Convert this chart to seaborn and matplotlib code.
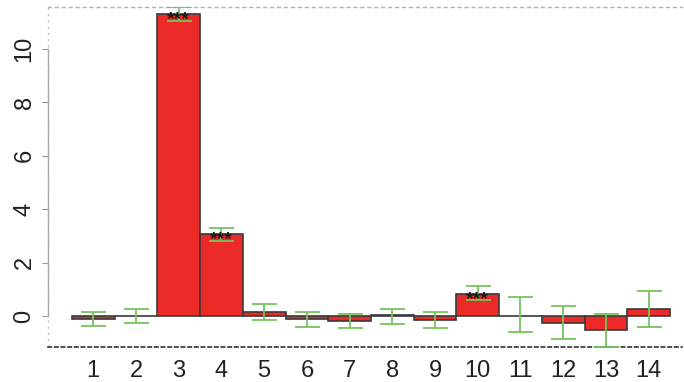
import matplotlib
matplotlib.use("Agg")
import matplotlib.pyplot as plt
import seaborn as sns
import pandas as pd
import numpy as np

# Group labels, mean effect per group and its error half-width
groups = ["1", "2", "3", "4", "5", "6", "7", "8", "9", "10", "11", "12", "13", "14"]
means = [-0.08, 0.01, 11.28, 3.07, 0.16, -0.11, -0.17, 0.04, -0.13, 0.85, 0.02, -0.23, -0.50, 0.29]
err_center = [-0.08, 0.02, 11.29, 3.07, 0.16, -0.11, -0.17, -0.01, -0.14, 0.88, 0.07, -0.23, -0.53, 0.28]
err_half = [0.26, 0.25, 0.25, 0.24, 0.30, 0.27, 0.25, 0.28, 0.30, 0.26, 0.64, 0.61, 0.61, 0.66]
signif = ["", "", "***", "***", "", "", "", "", "", "***", "", "", "", ""]
y_ticks = [0, 2, 4, 6, 8, 10]

df = pd.DataFrame({"group": groups, "value": means})

sns.set_theme(style="white")
plt.rcParams["font.family"] = ["Liberation Sans", "DejaVu Sans"]

fig = plt.figure(figsize=(6.84, 3.82), dpi=100)
ax = fig.add_axes([0.0702, 0.0916, 0.9268, 0.8901])

sns.barplot(data=df, x="group", y="value", order=groups, color="#ec2a28",
            saturation=1, width=1.0, edgecolor="#3a3a3a", linewidth=1.2,
            errorbar=None, ax=ax)

pos = np.arange(len(groups))
ax.errorbar(pos, err_center, yerr=err_half, fmt="none", ecolor="#74c45a",
            elinewidth=1.3, capsize=9, capthick=1.3, zorder=5)

# Significance stars centred on the bar tops
for p, m, s in zip(pos, means, signif):
    if s:
        ax.annotate(s, xy=(p, m), xytext=(0, -4), textcoords="offset points",
                    ha="center", va="center", fontsize=14, fontweight="bold",
                    color="#1a1a1a", zorder=6)

ax.set_xlim(-1.06, 13.78)
ax.set_ylim(-1.14, 11.55)
ax.set_yticks(y_ticks)
ax.set_yticklabels([str(t) for t in y_ticks], rotation=90, va="center")
ax.set_xlabel("")
ax.set_ylabel("")

ax.tick_params(axis="y", left=True, length=4, width=0.8, color="#999999",
               labelsize=17, labelcolor="#222222", pad=5)
ax.tick_params(axis="x", bottom=False, labelsize=17, labelcolor="#222222", pad=3)

# Frame: dotted box edges, solid axis line spanning the tick range
ax.spines["right"].set_visible(False)
ax.spines["top"].set_linestyle((0, (2, 3)))
ax.spines["top"].set_color("#b0b0b0")
ax.spines["top"].set_linewidth(1.0)
ax.spines["bottom"].set_linestyle((0, (2, 2)))
ax.spines["bottom"].set_color("#333333")
ax.spines["bottom"].set_linewidth(1.2)
ax.spines["left"].set_bounds(0, 10)
ax.spines["left"].set_color("#aaaaaa")
ax.spines["left"].set_linewidth(1.0)
ax.axvline(ax.get_xlim()[0], color="#c0c0c0", linestyle=(0, (1.5, 3)),
           linewidth=1.0, zorder=0, clip_on=False)

fig.savefig("out.png", dpi=100)
